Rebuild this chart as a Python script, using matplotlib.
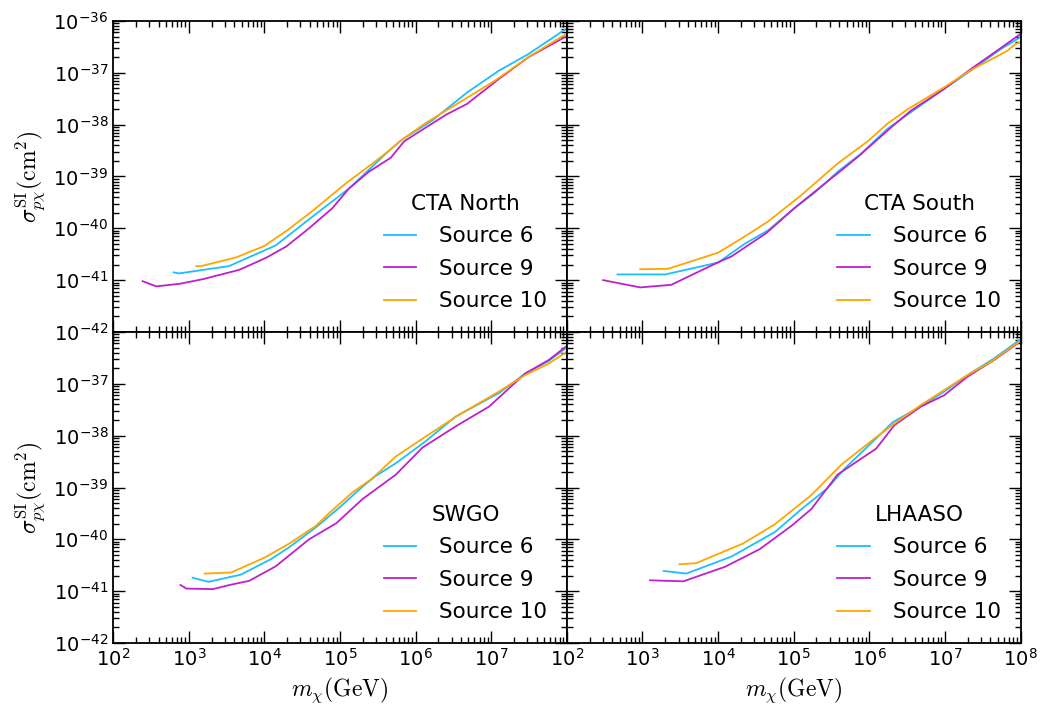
import numpy as np
import matplotlib.pyplot as plt

plt.rcParams['mathtext.fontset'] = 'cm'
plt.rcParams['axes.unicode_minus'] = False

# values, stored as log10(m / GeV) and log10(sigma / cm^2)
panels = ['CTA North', 'CTA South', 'SWGO', 'LHAASO']
sources = ['Source 6', 'Source 9', 'Source 10']
colors = ['#1abfff', '#c020c8', '#ffa500']

# CTA North
ctan_s6_x = [2.80, 2.87, 3.53, 4.15, 4.64, 5.12, 5.65, 5.82, 6.22, 6.68, 7.10, 7.49, 7.96, 8.0]
ctan_s6_y = [-40.85, -40.87, -40.73, -40.33, -39.77, -39.23, -38.50, -38.29, -37.92, -37.38, -36.96, -36.64, -36.18, -36.15]
ctan_s9_x = [2.39, 2.57, 2.88, 3.19, 3.67, 4.02, 4.29, 4.59, 4.90, 5.12, 5.38, 5.67, 5.85, 6.40, 6.68, 7.10, 7.49, 8.0]
ctan_s9_y = [-41.02, -41.12, -41.07, -40.98, -40.80, -40.57, -40.35, -40.00, -39.61, -39.23, -38.91, -38.64, -38.32, -37.81, -37.60, -37.12, -36.70, -36.29]
ctan_s10_x = [3.10, 3.16, 3.63, 4.00, 4.31, 4.64, 5.08, 5.43, 5.65, 5.82, 6.13, 6.66, 7.05, 7.49, 8.0]
ctan_s10_y = [-40.73, -40.73, -40.56, -40.34, -40.03, -39.66, -39.13, -38.75, -38.50, -38.29, -37.97, -37.50, -37.15, -36.70, -36.24]

# CTA South
ctas_s6_x = [2.67, 3.30, 4.00, 4.35, 4.66, 5.01, 5.28, 5.58, 5.89, 6.24, 6.55, 6.99, 7.34, 7.74, 7.98, 8.0]
ctas_s6_y = [-40.89, -40.89, -40.66, -40.30, -40.04, -39.61, -39.31, -38.91, -38.56, -38.08, -37.76, -37.31, -36.96, -36.54, -36.33, -36.30]
ctas_s9_x = [2.48, 2.97, 3.38, 3.98, 4.18, 4.64, 5.01, 5.28, 5.58, 5.85, 6.02, 6.29, 6.55, 6.99, 7.34, 7.74, 7.99]
ctas_s9_y = [-41.00, -41.14, -41.09, -40.67, -40.54, -40.09, -39.61, -39.29, -38.94, -38.62, -38.40, -38.05, -37.73, -37.31, -36.93, -36.52, -36.26]
ctas_s10_x = [2.97, 3.34, 4.00, 4.35, 4.66, 5.10, 5.58, 5.98, 6.24, 6.51, 6.99, 7.34, 7.82, 7.93, 8.0]
ctas_s10_y = [-40.79, -40.78, -40.47, -40.16, -39.87, -39.36, -38.75, -38.32, -37.98, -37.70, -37.28, -36.95, -36.58, -36.45, -36.40]

# SWGO
swgo_s6_x = [3.05, 3.26, 3.69, 4.09, 4.33, 4.68, 4.99, 5.30, 5.47, 5.74, 6.13, 6.53, 7.10, 7.45, 7.76, 7.98, 8.0]
swgo_s6_y = [-40.74, -40.82, -40.68, -40.38, -40.15, -39.77, -39.39, -38.98, -38.78, -38.53, -38.11, -37.63, -37.18, -36.80, -36.56, -36.32, -36.30]
swgo_s9_x = [2.89, 2.97, 3.32, 3.54, 3.80, 4.15, 4.59, 4.95, 5.30, 5.74, 6.09, 6.53, 6.97, 7.45, 7.76, 7.98, 8.0]
swgo_s9_y = [-40.88, -40.95, -40.96, -40.88, -40.80, -40.52, -40.00, -39.69, -39.22, -38.75, -38.23, -37.82, -37.44, -36.80, -36.54, -36.29, -36.27]
swgo_s10_x = [3.21, 3.56, 4.02, 4.33, 4.68, 4.86, 5.16, 5.43, 5.74, 6.13, 6.57, 7.10, 7.45, 7.76, 7.98, 8.0]
swgo_s10_y = [-40.66, -40.64, -40.34, -40.08, -39.74, -39.49, -39.10, -38.82, -38.40, -38.02, -37.60, -37.15, -36.83, -36.61, -36.40, -36.38]

# LHAASO
lhaaso_s6_x = [3.28, 3.58, 4.18, 4.75, 5.10, 5.45, 5.67, 6.07, 6.31, 6.64, 6.99, 7.30, 7.65, 7.98, 8.0]
lhaaso_s6_y = [-40.61, -40.66, -40.33, -39.86, -39.42, -39.01, -38.64, -38.08, -37.74, -37.47, -37.15, -36.83, -36.51, -36.16, -36.14]
lhaaso_s9_x = [3.10, 3.54, 4.09, 4.55, 4.97, 5.23, 5.58, 6.09, 6.33, 6.68, 6.99, 7.30, 7.65, 7.99]
lhaaso_s9_y = [-40.79, -40.81, -40.53, -40.19, -39.74, -39.42, -38.75, -38.25, -37.80, -37.44, -37.22, -36.86, -36.54, -36.19]
lhaaso_s10_x = [3.49, 3.71, 4.33, 4.75, 5.23, 5.63, 6.02, 6.31, 6.68, 6.99, 7.30, 7.60, 7.98, 8.0]
lhaaso_s10_y = [-40.48, -40.46, -40.08, -39.71, -39.15, -38.56, -38.11, -37.79, -37.41, -37.12, -36.83, -36.58, -36.19, -36.17]

curves = [
    [(ctan_s6_x, ctan_s6_y), (ctan_s9_x, ctan_s9_y), (ctan_s10_x, ctan_s10_y)],
    [(ctas_s6_x, ctas_s6_y), (ctas_s9_x, ctas_s9_y), (ctas_s10_x, ctas_s10_y)],
    [(swgo_s6_x, swgo_s6_y), (swgo_s9_x, swgo_s9_y), (swgo_s10_x, swgo_s10_y)],
    [(lhaaso_s6_x, lhaaso_s6_y), (lhaaso_s9_x, lhaaso_s9_y), (lhaaso_s10_x, lhaaso_s10_y)],
]

fig, axes = plt.subplots(2, 2, figsize=(10.43, 7.06), dpi=100)
fig.subplots_adjust(left=0.1085, right=0.9785, bottom=0.0892, top=0.9703,
                    hspace=0, wspace=0)

for i, ax in enumerate(axes.flat):
    for (lx, ly), lab, c in zip(curves[i], sources, colors):
        ax.plot(np.power(10.0, lx), np.power(10.0, ly), color=c, lw=1.3, label=lab)
    ax.set_xscale('log')
    ax.set_yscale('log')
    ax.set_xlim(1e2, 1e8)
    ax.set_ylim(1e-42, 1e-36)
    ax.tick_params(which='both', direction='in', top=True, right=True, labelsize=14)
    ax.tick_params(which='major', length=8.5, width=1)
    ax.tick_params(which='minor', length=4.3, width=1)
    for s in ax.spines.values():
        s.set_linewidth(1.3)
    leg = ax.legend(title=panels[i], loc='lower right', frameon=False,
                    fontsize=15.5, title_fontsize=15.5, handlelength=1.5,
                    handletextpad=1.1, labelspacing=0.58,
                    bbox_to_anchor=(1.0, 0.005))

    row, col = divmod(i, 2)
    ax.set_xticks([10.0 ** k for k in range(2, 9)])
    ax.set_yticks([10.0 ** k for k in range(-42, -35)])
    if row == 0:
        ax.tick_params(labelbottom=False)
    else:
        ax.set_xlabel(r'$m_\chi({\rm GeV})$', fontsize=17)
        if col == 0:
            ax.set_xticklabels([r'$\mathdefault{10^{%d}}$' % k for k in range(2, 8)] + [''])
    if col == 1:
        ax.tick_params(labelleft=False)
    else:
        ax.set_ylabel(r'$\sigma^{\rm SI}_{p\chi}({\rm cm}^2)$', fontsize=17)
        if row == 1:
            ax.set_yticklabels([r'$\mathdefault{10^{%d}}$' % k for k in range(-42, -36)] + [''])

fig.savefig('out.png', dpi=100)
